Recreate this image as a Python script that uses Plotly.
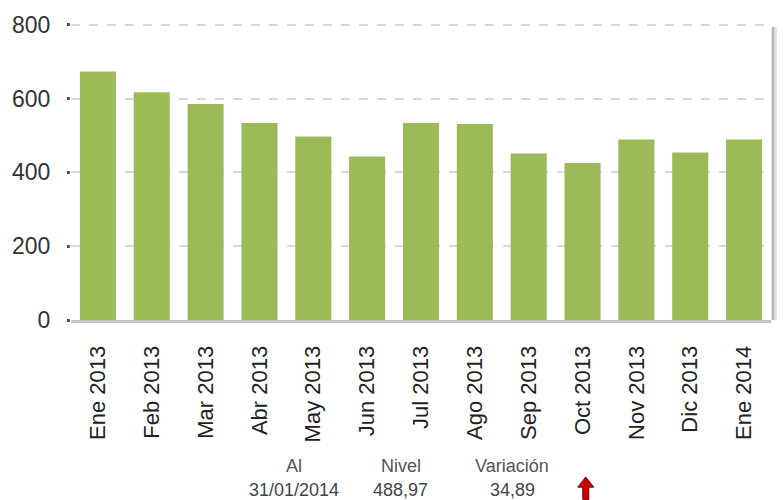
import plotly.graph_objects as go

# Monthly levels
months = ["Ene 2013", "Feb 2013", "Mar 2013", "Abr 2013", "May 2013", "Jun 2013",
          "Jul 2013", "Ago 2013", "Sep 2013", "Oct 2013", "Nov 2013", "Dic 2013",
          "Ene 2014"]
levels = [673, 617, 585, 534, 497, 443, 534, 531, 451, 425, 489, 454.08, 488.97]

y_ticks = [0, 200, 400, 600, 800]

# Summary row below the chart
summary_headers = ["Al", "Nivel", "Variación"]
summary_values = ["31/01/2014", "488,97", "34,89"]

BAR_COLOR = "#9BBB59"
FONT = "Liberation Sans, Arial, sans-serif"

fig = go.Figure(
    go.Bar(x=months, y=levels, marker=dict(color=BAR_COLOR, line=dict(width=0)),
           hoverinfo="x+y")
)

fig.update_layout(
    width=783, height=500,
    margin=dict(l=70, r=12, t=17, b=180),
    paper_bgcolor="white", plot_bgcolor="white",
    bargap=0.33,
    showlegend=False,
    font=dict(family=FONT, color="#333"),
    xaxis=dict(
        tickangle=-90,
        tickfont=dict(size=22, color="#222", family=FONT),
        showgrid=False,
        showline=True, linecolor="#c4c4c4", linewidth=3,
        ticks="", ticklabelstandoff=14,
        fixedrange=True,
    ),
    yaxis=dict(
        range=[0, 810], tickvals=y_ticks,
        tickfont=dict(size=23, color="#333", family=FONT),
        showgrid=True, gridcolor="#d9d9d9", gridwidth=1.5, griddash="dash",
        zeroline=False,
        ticks="outside", ticklen=3, tickwidth=3, tickcolor="#555",
        ticklabelstandoff=12,
        showline=False,
        fixedrange=True,
    ),
)

# Right-hand frame edge with its soft shadow
fig.add_shape(type="line", xref="paper", yref="paper", x0=1.003, x1=1.003, y0=0, y1=0.98,
              line=dict(color="#b8b8b8", width=3))
fig.add_shape(type="line", xref="paper", yref="paper", x0=1.007, x1=1.007, y0=0, y1=0.98,
              line=dict(color="#e4e4e4", width=2))

# Summary labels
header_x = [0.318, 0.471, 0.630]
for hx, head, val in zip(header_x, summary_headers, summary_values):
    fig.add_annotation(text=head, xref="paper", yref="paper", x=hx, y=-0.488,
                       showarrow=False, xanchor="center", yanchor="middle",
                       font=dict(size=18, color="#555", family=FONT))
    fig.add_annotation(text=val, xref="paper", yref="paper", x=hx, y=-0.568,
                       showarrow=False, xanchor="center", yanchor="middle",
                       font=dict(size=18, color="#444", family=FONT))

# Red up-arrow indicator for the positive variation
fig.add_shape(type="path", xref="paper", yref="paper",
              path="M 0.7354 -0.525 L 0.7468 -0.559 L 0.7397 -0.559 L 0.7397 -0.600 "
                   "L 0.7311 -0.600 L 0.7311 -0.559 L 0.7240 -0.559 Z",
              fillcolor="#cc0000", line=dict(color="#7a0000", width=1))

fig.write_html("out.html")
